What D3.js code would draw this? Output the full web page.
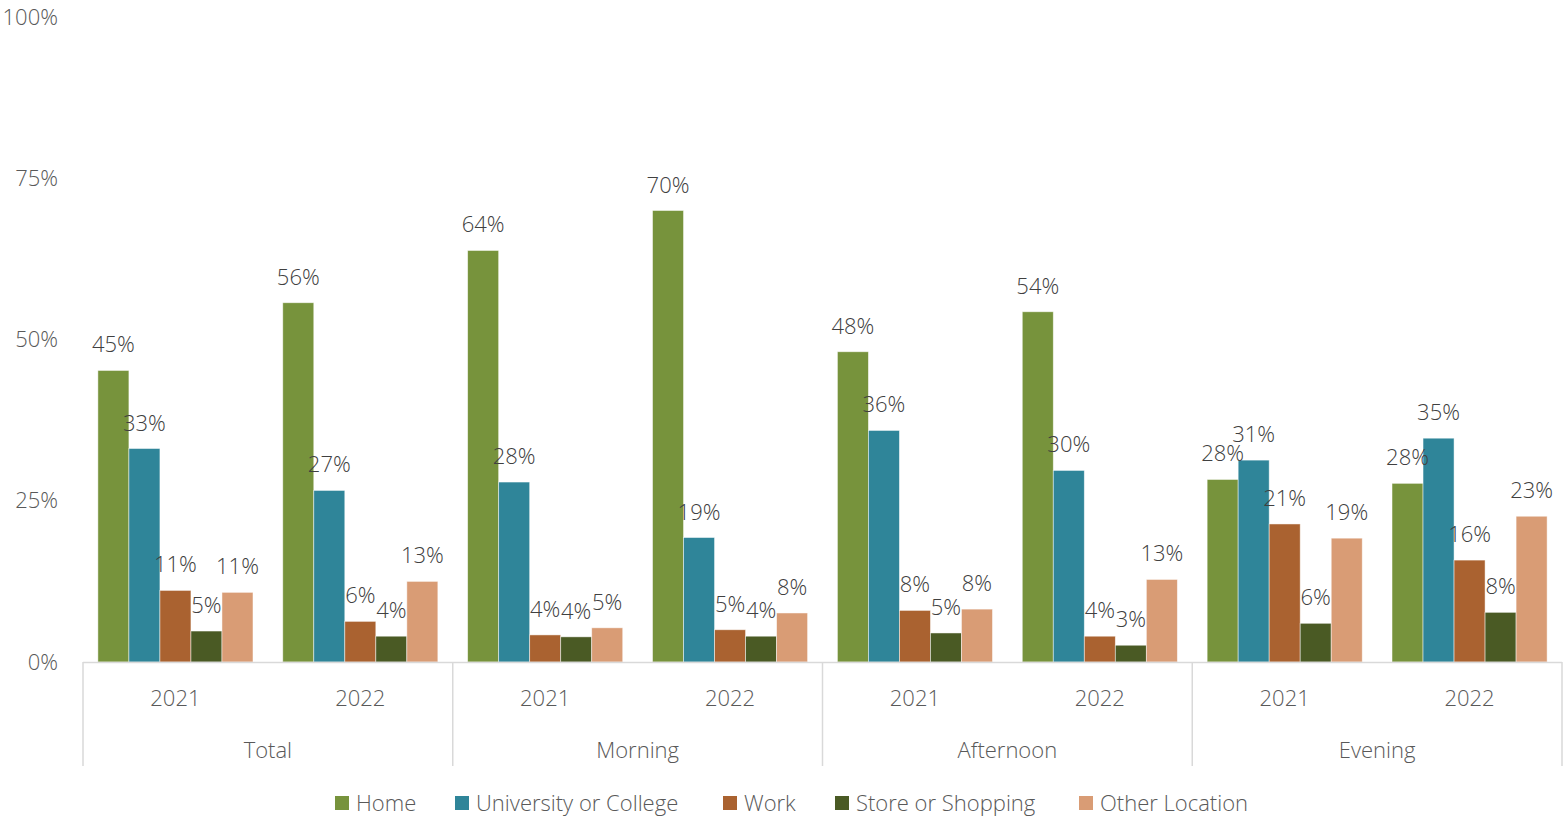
<!DOCTYPE html>
<html>
<head>
<meta charset="utf-8">
<script src="https://cdn.jsdelivr.net/npm/d3@7"></script>
<style>
  body { margin: 0; background: #fff; }
  text { font-family: "Open Sans", "Noto Sans", sans-serif; font-weight: 300; }
</style>
</head>
<body>
<div id="chart"></div>
<script>
// periods and years along the x axis
var periods = ["Total", "Morning", "Afternoon", "Evening"];
var years = ["2021", "2022"];

// series names and colours
var series = ["Home", "University or College", "Work", "Store or Shopping", "Other Location"];
var colors = ["#77933c", "#2f8599", "#aa6230", "#4a5a24", "#d99c75"];

// values per series, in order Total21, Total22, Morning21, Morning22, Afternoon21, Afternoon22, Evening21, Evening22
var home = [45.2, 55.7, 63.8, 70.0, 48.1, 54.3, 28.3, 27.7];
var university = [33.1, 26.6, 27.9, 19.3, 35.9, 29.7, 31.3, 34.7];
var work = [11.1, 6.3, 4.2, 5.0, 8.0, 4.0, 21.4, 15.8];
var store = [4.8, 4.0, 3.9, 4.0, 4.5, 2.6, 6.0, 7.7];
var other = [10.8, 12.5, 5.3, 7.6, 8.2, 12.8, 19.2, 22.6];

var yTicks = [0, 25, 50, 75, 100];

var values = [home, university, work, store, other];

var width = 1563, height = 818;
var margin = {top: 17, right: 1, bottom: 155, left: 83};
var fontSize = "22px";

var svg = d3.select("#chart").append("svg")
    .attr("width", width)
    .attr("height", height);

// groups = each period/year pair
var groups = [];
periods.forEach(function(p) {
    years.forEach(function(y) { groups.push(p + "|" + y); });
});

var x0 = d3.scaleBand()
    .domain(groups)
    .range([margin.left, width - margin.right]);

var x1 = d3.scaleBand()
    .domain(series)
    .range([0, x0.bandwidth()])
    .paddingOuter(0.48);

var y = d3.scaleLinear()
    .domain([0, 100])
    .range([height - margin.bottom - 1, margin.top]);

// y tick labels
svg.append("g")
    .selectAll("text")
    .data(yTicks)
    .enter().append("text")
    .attr("x", 58)
    .attr("y", function(d) { return y(d); })
    .attr("dy", "0.35em")
    .attr("text-anchor", "end")
    .attr("fill", "#595959")
    .style("font-size", fontSize)
    .text(function(d) { return d + "%"; });

// bars
var gGroups = svg.append("g")
    .selectAll("g")
    .data(groups)
    .enter().append("g")
    .attr("transform", function(d) { return "translate(" + x0(d) + ",0)"; });

gGroups.selectAll("rect")
    .data(function(d, i) {
        return series.map(function(s, j) { return {s: s, j: j, v: values[j][i]}; });
    })
    .enter().append("rect")
    .attr("x", function(d) { return x1(d.s); })
    .attr("width", x1.bandwidth())
    .attr("y", function(d) { return y(d.v); })
    .attr("height", function(d) { return y(0) - y(d.v); })
    .attr("fill", function(d) { return colors[d.j]; })
    .attr("stroke", "#fff")
    .attr("stroke-opacity", 0.6)
    .attr("stroke-width", 0.8);

// data labels
gGroups.selectAll("text")
    .data(function(d, i) {
        return series.map(function(s, j) { return {s: s, j: j, v: values[j][i]}; });
    })
    .enter().append("text")
    .attr("x", function(d) { return x1(d.s) + x1.bandwidth() / 2; })
    .attr("y", function(d) { return y(d.v) - 18; })
    .attr("text-anchor", "middle")
    .attr("fill", "#404040")
    .style("font-size", fontSize)
    .text(function(d) { return Math.round(d.v) + "%"; });

// x axis baseline
var base = y(0);
svg.append("line")
    .attr("x1", margin.left).attr("x2", width - margin.right)
    .attr("y1", base + 0.5).attr("y2", base + 0.5)
    .attr("stroke", "#d9d9d9")
    .attr("stroke-width", 1.5);

// period separators
var sepX = periods.map(function(p) { return x0(p + "|" + years[0]); });
sepX.push(width - margin.right);
svg.append("g")
    .selectAll("line")
    .data(sepX)
    .enter().append("line")
    .attr("x1", function(d) { return d; }).attr("x2", function(d) { return d; })
    .attr("y1", base).attr("y2", 766)
    .attr("stroke", "#d9d9d9")
    .attr("stroke-width", 1.5);

// year labels
svg.append("g")
    .selectAll("text")
    .data(groups)
    .enter().append("text")
    .attr("x", function(d) { return x0(d) + x0.bandwidth() / 2; })
    .attr("y", 698)
    .attr("dy", "0.35em")
    .attr("text-anchor", "middle")
    .attr("fill", "#595959")
    .style("font-size", fontSize)
    .text(function(d) { return d.split("|")[1]; });

// period labels
svg.append("g")
    .selectAll("text")
    .data(periods)
    .enter().append("text")
    .attr("x", function(p) { return x0(p + "|" + years[0]) + x0.bandwidth(); })
    .attr("y", 750)
    .attr("dy", "0.35em")
    .attr("text-anchor", "middle")
    .attr("fill", "#595959")
    .style("font-size", fontSize)
    .text(function(p) { return p; });

// legend
var legendX = [335, 455, 723, 835, 1079];
var legend = svg.append("g")
    .selectAll("g")
    .data(series)
    .enter().append("g")
    .attr("transform", function(d, i) { return "translate(" + legendX[i] + ",796)"; });

legend.append("rect")
    .attr("width", 14)
    .attr("height", 14)
    .attr("fill", function(d, i) { return colors[i]; });

legend.append("text")
    .attr("x", 21)
    .attr("y", 7)
    .attr("dy", "0.35em")
    .attr("fill", "#595959")
    .style("font-size", fontSize)
    .text(function(d) { return d; });
</script>
</body>
</html>
